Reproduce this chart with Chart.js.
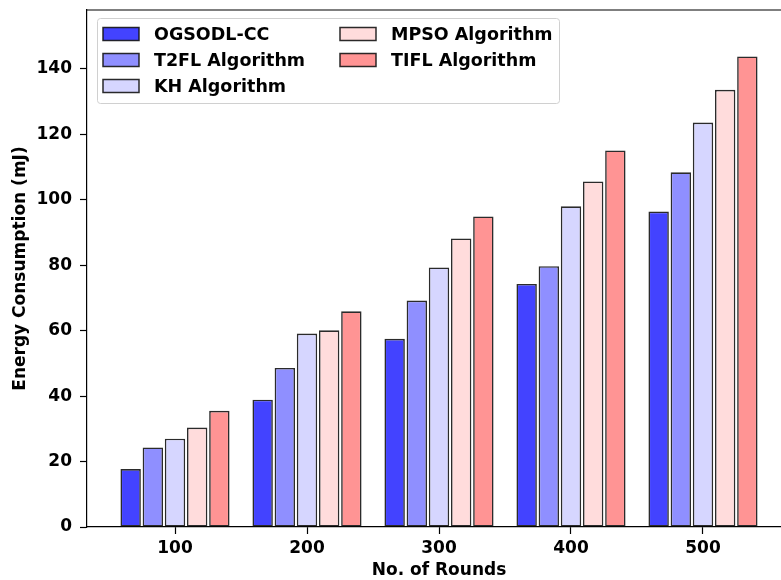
<!DOCTYPE html>
<html lang="en">
<head>
    <meta charset="UTF-8">
    <title>Energy Consumption vs Rounds</title>
    <script src="https://cdn.jsdelivr.net/npm/chart.js"></script>
    <style>
        html, body { margin: 0; padding: 0; overflow: hidden; background: #fff; }
        #wrap { width: 800px; height: 580px; }
    </style>
</head>
<body>
    <div id="wrap"><canvas id="myChart" width="800" height="580"></canvas></div>

    <script>
        // values
        const rounds = [100, 200, 300, 400, 500];
        const ogsodl = [17.7, 38.9, 57.5, 74.3, 96.4];
        const t2fl   = [24.3, 48.6, 69.2, 79.7, 108.4];
        const kh     = [27.0, 59.1, 79.3, 98.0, 123.6];
        const mpso   = [30.4, 60.1, 88.2, 105.6, 133.6];
        const tifl   = [35.5, 65.9, 94.9, 115.1, 143.8];
        const yTicks = [0, 20, 40, 60, 80, 100, 120, 140];

        const seriesNames  = ['OGSODL-CC', 'T2FL Algorithm', 'KH Algorithm', 'MPSO Algorithm', 'TIFL Algorithm'];
        const seriesValues = [ogsodl, t2fl, kh, mpso, tifl];
        const seriesColors = ['#4343ff', '#8f8fff', '#d6d6ff', '#ffdcdc', '#ff9494'];

        const FONT = '"DejaVu Sans", sans-serif';

        const datasets = seriesNames.map((name, i) => ({
            label: name,
            data: rounds.map((r, j) => ({ x: r, y: seriesValues[i][j] })),
            backgroundColor: seriesColors[i],
            borderColor: 'rgba(20,20,20,0.9)',
            borderWidth: 1.6,
            borderSkipped: false,
            categoryPercentage: 0.84,
            barPercentage: 0.92
        }));

        // frame on top + legend box in two columns (column-major like matplotlib)
        const framePlugin = {
            id: 'frame',
            afterDraw(chart) {
                const { ctx, chartArea: a } = chart;
                ctx.save();
                ctx.strokeStyle = '#000';
                ctx.lineWidth = 1.2;
                ctx.beginPath();
                ctx.moveTo(a.left, a.top);
                ctx.lineTo(a.right, a.top);
                ctx.lineTo(a.right, a.bottom);
                ctx.stroke();

                // legend
                const bx = a.left + 10, by = a.top + 8, bw = 462, bh = 85;
                ctx.fillStyle = 'rgba(255,255,255,0.8)';
                ctx.strokeStyle = '#d0d0d0';
                ctx.lineWidth = 1;
                ctx.beginPath();
                ctx.roundRect(bx + 0.5, by + 0.5, bw, bh, 3);
                ctx.fill();
                ctx.stroke();

                ctx.font = 'bold 17.5px ' + FONT;
                ctx.textBaseline = 'middle';
                ctx.textAlign = 'left';
                const colX = [bx + 6, bx + 243];
                const rowY = [by + 16, by + 42, by + 68];
                seriesNames.forEach((name, i) => {
                    const col = i < 3 ? 0 : 1;
                    const row = i < 3 ? i : i - 3;
                    const x = colX[col], y = rowY[row];
                    ctx.fillStyle = seriesColors[i];
                    ctx.fillRect(x, y - 6.5, 36, 13);
                    ctx.strokeStyle = 'rgba(20,20,20,0.9)';
                    ctx.lineWidth = 1.5;
                    ctx.strokeRect(x, y - 6.5, 36, 13);
                    ctx.fillStyle = '#000';
                    ctx.fillText(name, x + 51, y + 1);
                });
                ctx.restore();
            }
        };

        const ctx = document.getElementById('myChart').getContext('2d');
        const chart = new Chart(ctx, {
            type: 'bar',
            data: { datasets: datasets },
            plugins: [framePlugin],
            options: {
                responsive: false,
                animation: false,
                layout: { padding: { left: 0, top: 10, right: 9, bottom: 0 } },
                plugins: {
                    legend: { display: false },
                    tooltip: { enabled: false }
                },
                scales: {
                    x: {
                        type: 'linear',
                        min: 33.33,
                        max: 566.67,
                        offset: false,
                        afterFit: (s) => { s.height = 53; s.paddingLeft = 0; s.paddingRight = 0; },
                        afterBuildTicks: (s) => { s.ticks = rounds.map(v => ({ value: v })); },
                        grid: { display: true, offset: false, drawOnChartArea: false, drawTicks: true, tickLength: 7, tickColor: '#000', tickWidth: 1.2 },
                        border: { display: true, color: '#000', width: 1.2 },
                        ticks: { color: '#000', padding: 4, maxRotation: 0, font: { family: FONT, size: 17, weight: 'bold' } },
                        title: { display: true, text: 'No. of Rounds', color: '#000', padding: { top: 0, bottom: 0 },
                                 font: { family: FONT, size: 17, weight: 'bold', lineHeight: 1.05 } }
                    },
                    y: {
                        min: 0,
                        max: 158,
                        afterFit: (s) => { s.width = 87; s.paddingTop = 0; s.paddingBottom = 0; },
                        afterBuildTicks: (s) => { s.ticks = yTicks.map(v => ({ value: v })); },
                        grid: { display: true, drawOnChartArea: false, drawTicks: true, tickLength: 7, tickColor: '#000', tickWidth: 1.2 },
                        border: { display: true, color: '#000', width: 1.2 },
                        ticks: { color: '#000', padding: 8, font: { family: FONT, size: 17, weight: 'bold' } },
                        title: { display: true, text: 'Energy Consumption (mJ)', color: '#000', padding: { top: 10, bottom: 0 },
                                 font: { family: FONT, size: 17, weight: 'bold', lineHeight: 1.2 } }
                    }
                }
            }
        });
    </script>
</body>
</html>
